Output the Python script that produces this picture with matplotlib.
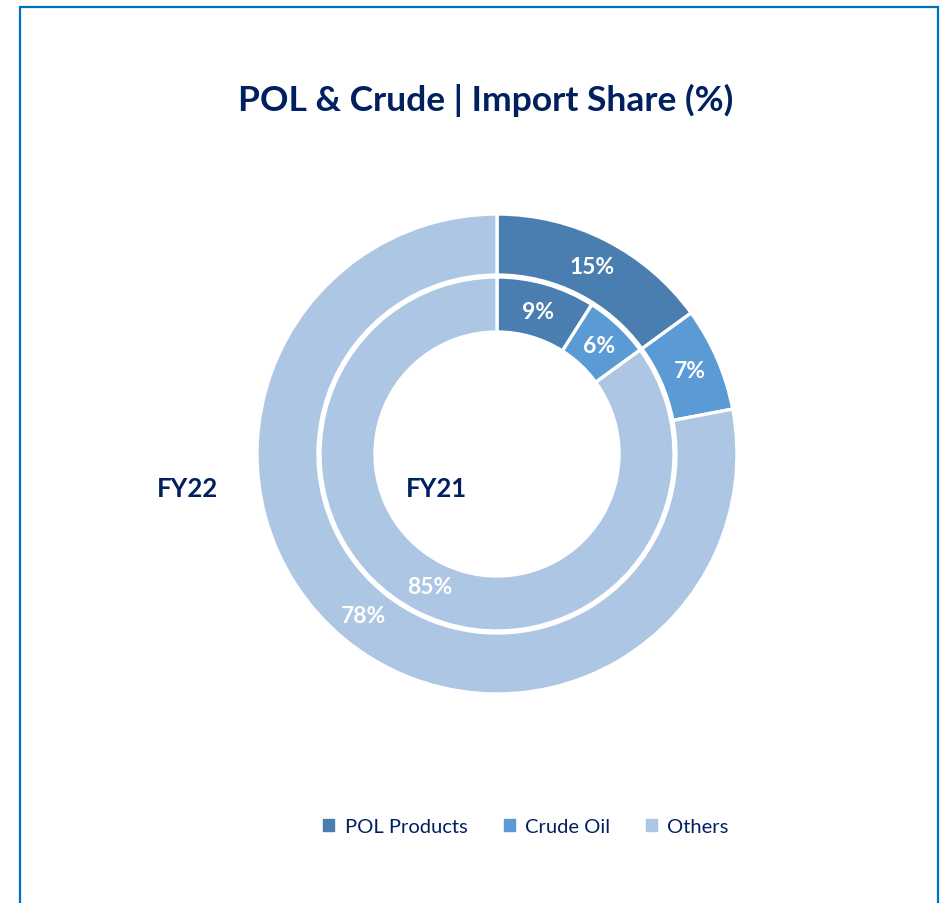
import matplotlib.pyplot as plt
from matplotlib.patches import Rectangle

plt.rcParams['font.family'] = ['Lato', 'DejaVu Sans']

# data
categories = ['POL Products', 'Crude Oil', 'Others']
fy22_share = [15, 7, 78]   # outer ring
fy21_share = [9, 6, 85]    # inner ring
colors = ['#4A7EB0', '#5B9BD5', '#ADC6E4']
navy = '#002060'

W, H = 945, 904
fig = plt.figure(figsize=(W / 100, H / 100), dpi=100)
ax = fig.add_axes([0, 0, 1, 1])

cx, cy = 497, H - 455
r_out = 240
r_mid = 179
r_in = 122
edge = dict(edgecolor='white', linewidth=2.4)

# outer ring FY22
ax.pie(fy22_share, colors=colors, startangle=90, counterclock=False,
       center=(cx, cy), radius=r_out, frame=True,
       wedgeprops=dict(width=r_out - r_mid, **edge),
       autopct='%.0f%%', pctdistance=0.875,
       textprops=dict(color='white', fontsize=16.5, fontweight='bold'))
# inner ring FY21
ax.pie(fy21_share, colors=colors, startangle=90, counterclock=False,
       center=(cx, cy), radius=r_mid - 2, frame=True,
       wedgeprops=dict(width=r_mid - 2 - r_in, **edge),
       autopct='%.0f%%', pctdistance=0.84,
       textprops=dict(color='white', fontsize=16.5, fontweight='bold'))
ax.set_xlim(0, W)
ax.set_ylim(0, H)
ax.set_aspect('equal')
ax.axis('off')

ax.text(187, H - 489, 'FY22', ha='center', va='center', fontsize=18.5,
        fontweight='bold', color=navy)
ax.text(436, H - 489, 'FY21', ha='center', va='center', fontsize=18.5,
        fontweight='bold', color=navy)

ax.text(486, H - 100, 'POL & Crude | Import Share (%)', ha='center', va='center',
        fontsize=25.5, fontweight='bold', color=navy)

# legend
handles = [plt.Rectangle((0, 0), 1, 1, color=c) for c in colors]
leg = fig.legend(handles, categories, loc='center', bbox_to_anchor=(526 / W, 1 - 828 / H),
                 ncol=3, frameon=False, fontsize=14.5, handlelength=0.55, handleheight=0.55,
                 columnspacing=1.8, handletextpad=0.5)
for t in leg.get_texts():
    t.set_color(navy)

# outer border
ax.add_patch(Rectangle((20, -10), 918, H - 8 + 10, fill=False, edgecolor='#0070C0',
                       linewidth=1.6, clip_on=False))

fig.savefig('out.png', dpi=100)
